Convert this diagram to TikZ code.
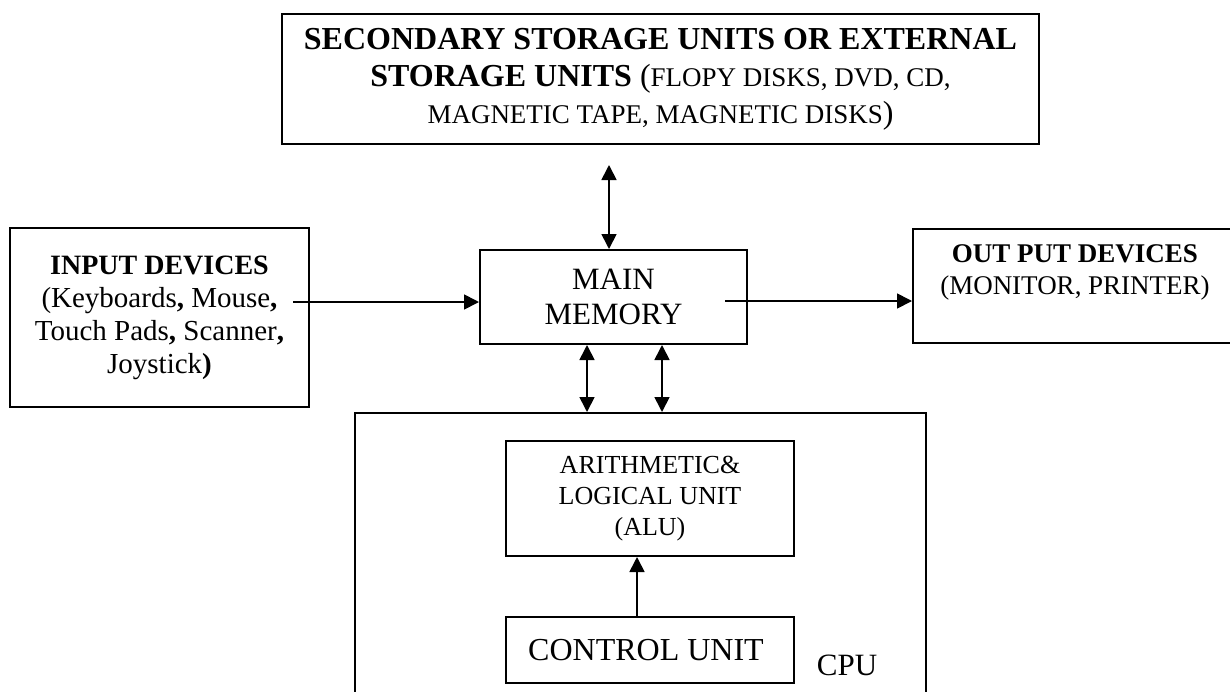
\documentclass[tikz,border=0pt]{standalone}
\usepackage{fontspec}
\setmainfont{Liberation Serif}
\usepackage{tikz}
\usetikzlibrary{arrows.meta,calc}

\begin{document}
\begin{tikzpicture}[x=1pt, y=-1pt,
    box/.style={rectangle, draw=black, line width=2pt, inner sep=0pt, align=center},
    arr/.style={-{Triangle[length=15pt, width=15pt]}, line width=1.7pt},
    dbl/.style={{Triangle[length=15pt, width=15pt]}-{Triangle[length=15pt, width=15pt]}, line width=1.7pt}]
    \useasboundingbox (0,0) rectangle (1230,691);
    \clip (0,0) rectangle (1230,691);

    \node[box, minimum width=757pt, minimum height=130pt, font=\fontsize{32}{37}\selectfont] (sec) at (660.5,79) {%
        \textbf{SECONDARY STORAGE UNITS OR EXTERNAL}\\
        \textbf{STORAGE UNITS} ({\fontsize{27}{37}\selectfont FLOPY DISKS, DVD, CD,}\\
        {\fontsize{27}{37}\selectfont MAGNETIC TAPE, MAGNETIC DISKS})};
    \node[box, minimum width=299pt, minimum height=179pt, font=\fontsize{29}{33}\selectfont] (input) at (159.5,317.5) {%
        {\fontsize{28}{33}\selectfont\textbf{INPUT DEVICES}}\\
        (Keyboards\textbf{,} Mouse\textbf{,}\\
        Touch Pads\textbf{,} Scanner\textbf{,}\\
        Joystick\textbf{)}};
    \node[box, minimum width=267pt, minimum height=94pt, font=\fontsize{31}{35}\selectfont] (mem) at (613.5,297) {MAIN\\ MEMORY};
    \node[box, minimum width=324pt, minimum height=114pt, font=\fontsize{27}{32}\selectfont] (out) at (1075,286) {%
        \textbf{OUT PUT DEVICES}\\
        (MONITOR, PRINTER)\\ \mbox{}};
    \node[box, minimum width=571pt, minimum height=307pt] (cpu) at (640.5,566.5) {};
    \node[box, minimum width=288pt, minimum height=115pt, font=\fontsize{26}{31}\selectfont] (alu) at (650,498.5) {%
        ARITHMETIC\&\\ LOGICAL UNIT\\ (ALU)};
    \node[box, minimum width=288pt, minimum height=66pt, font=\fontsize{32}{36}\selectfont] (cu) at (650,650) {CONTROL UNIT\ };
    \node[anchor=base, inner sep=0pt, font=\fontsize{31}{36}\selectfont] (cpulbl) at (847,675) {CPU};

    \coordinate (inA) at (293,302);
    \coordinate (memA) at (725,301);
    \coordinate (secA) at (609,165);

    \draw[arr] (inA) -- (inA -| mem.west);
    \draw[arr] (memA) -- (memA -| out.west);
    \draw[dbl] (secA) -- (secA |- mem.north);
    \draw[dbl] ([xshift=-26.5pt]mem.south) -- ([xshift=-26.5pt]mem.south |- cpu.north);
    \draw[dbl] ([xshift=48.5pt]mem.south) -- ([xshift=48.5pt]mem.south |- cpu.north);
    \draw[arr] ([xshift=-13pt]cu.north) -- ([xshift=-13pt]alu.south);
\end{tikzpicture}
\end{document}
